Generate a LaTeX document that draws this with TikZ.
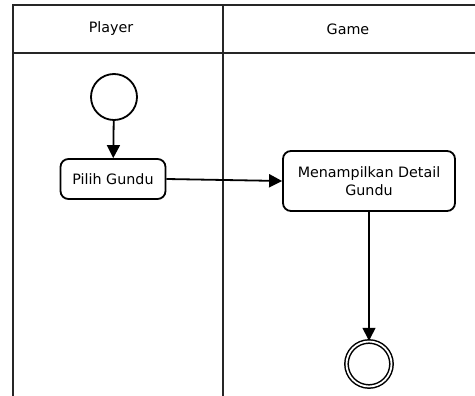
\documentclass[tikz,border=0pt]{standalone}
\usepackage{fontspec}
\setmainfont{DejaVu Sans}
\usetikzlibrary{arrows.meta}
\begin{document}
\begin{tikzpicture}[x=1pt,y=-1pt,
  lane/.style={line width=1.8pt,black!85},
  act/.style={draw,line width=1.8pt,rounded corners=8pt,fill=white,align=center,inner sep=0pt,font=\fontsize{14.3}{18}\selectfont},
  flow/.style={line width=1.8pt,-{Triangle[length=13pt,width=13pt]}},
  hdr/.style={font=\fontsize{14.3}{18}\selectfont}]
\useasboundingbox (0,0) rectangle (475,396);
% swimlanes
\coordinate (tl) at (12,5);
\coordinate (tr) at (475,5);
\coordinate (hl) at (12,53);
\coordinate (hr) at (475,53);
\coordinate (lb) at (13,396);
\coordinate (lt) at (13,5);
\coordinate (mt) at (223,5);
\coordinate (mb) at (223,396);
\draw[lane] (tl) -- (tr);
\draw[lane] (hl) -- (hr);
\draw[lane] (lt) -- (lb);
\draw[lane] (mt) -- (mb);
\node[hdr] (player) at (111,29) {Player};
\node[hdr] (game) at (348,29) {Game};
% nodes
\node[draw,circle,line width=1.8pt,minimum size=46pt,inner sep=0pt] (start) at (114,97) {};
\node[act,minimum width=105pt,minimum height=40pt] (pilih) at (113,179) {Pilih Gundu};
\node[act,minimum width=172pt,minimum height=60pt] (detail) at (369,181) {Menampilkan Detail\\Gundu};
\node[draw,circle,line width=1.5pt,minimum size=45pt,inner sep=0pt,double,double distance=1.8pt] (end) at (369,364) {};
% flows
\draw[flow] (start) -- (pilih);
\draw[flow] (pilih.east) -- (detail.west);
\draw[flow] (detail) -- (end);
\end{tikzpicture}
\end{document}
